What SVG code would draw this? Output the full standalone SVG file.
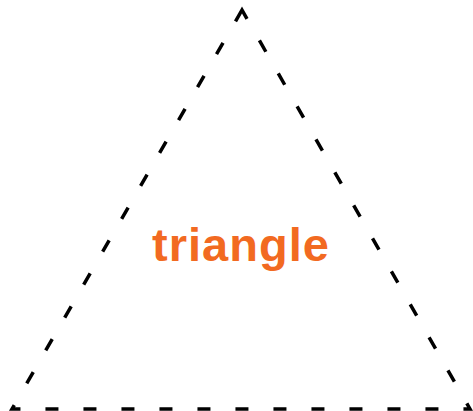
<svg xmlns="http://www.w3.org/2000/svg" width="473" height="411" viewBox="0 0 473 411">
<style>
.edge{fill:none;stroke:#000;stroke-width:3.5;stroke-dasharray:13 25;stroke-linejoin:miter}
.lbl{font-family:"Liberation Sans",Arial,sans-serif;font-weight:bold;font-size:47px;fill:#f26a21}
</style>
<rect width="473" height="411" fill="#fff"/>
<g id="connectors">
<path class="edge" d="M242,10 L12,409 L470,409 Z"/>
</g>
<g id="triangle">
<text class="lbl" x="152" y="261" textLength="177" lengthAdjust="spacing">triangle</text>
</g>
</svg>
